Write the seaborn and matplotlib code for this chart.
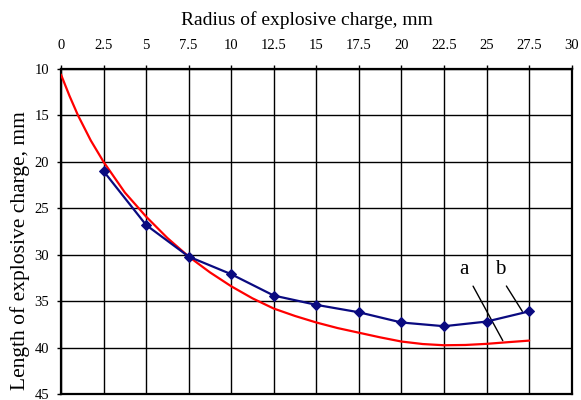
import matplotlib
matplotlib.use("Agg")
import matplotlib.pyplot as plt
import seaborn as sns
import numpy as np

# ---- data ----
radius_b = [2.5, 5, 7.5, 10, 12.5, 15, 17.5, 20, 22.5, 25, 27.5]
length_b = [21.0, 26.8, 30.2, 32.1, 34.4, 35.4, 36.2, 37.3, 37.7, 37.2, 36.1]

radius_a = [0, 0.5, 1, 1.75, 2.5, 3.75, 5, 6.25, 7.5, 8.75, 10, 11.25, 12.5,
            13.75, 15, 16.25, 17.5, 18.75, 20, 21.25, 22.5, 23.75, 25, 26.25, 27.5]
length_a = [10.6, 12.9, 15.0, 17.7, 20.0, 23.3, 25.9, 28.2, 30.2, 31.9, 33.4, 34.7, 35.8,
            36.6, 37.3, 37.9, 38.4, 38.9, 39.35, 39.62, 39.75, 39.72, 39.6, 39.42, 39.25]

x_ticks = [0, 2.5, 5, 7.5, 10, 12.5, 15, 17.5, 20, 22.5, 25, 27.5, 30]
x_ticklabels = ["0", "2.5", "5", "7.5", "10", "12.5", "15", "17.5", "20", "22.5", "25", "27.5", "30"]
y_ticks = [10, 15, 20, 25, 30, 35, 40, 45]
y_ticklabels = ["10", "15", "20", "25", "30", "35", "40", "45"]

x_label = "Radius of explosive charge, mm"
y_label = "Length of explosive charge, mm"

# ---- style ----
sns.set_theme(style="white")
plt.rcParams['font.family'] = ['Liberation Serif', 'DejaVu Serif']

W, H = 581, 400
fig = plt.figure(figsize=(W / 100, H / 100), dpi=100)
ax = fig.add_axes([61 / W, 6 / H, 510.7 / W, 325 / H])

sns.lineplot(x=radius_a, y=length_a, ax=ax, color="#ff0000", lw=1.6, zorder=3)
sns.lineplot(x=radius_b, y=length_b, ax=ax, color="#0a0a80", lw=1.6,
             marker="D", markersize=5.5, markeredgecolor="#0a0a80", zorder=4)

ax.set_xlim(0, 30)
ax.set_ylim(45, 10)
ax.set_xticks(x_ticks)
ax.set_xticklabels(x_ticklabels)
ax.set_yticks(y_ticks)
ax.set_yticklabels(y_ticklabels)

ax.xaxis.tick_top()
ax.tick_params(axis="x", which="both", top=True, bottom=False, direction="out",
               length=3, width=1, color="black", pad=9.5, labelsize=10.5, labelcolor="black")
ax.tick_params(axis="y", which="both", left=True, right=False, direction="out",
               length=3, width=1, color="black", pad=5.5, labelsize=10.5, labelcolor="black")

ax.grid(True, color="black", lw=1.0, zorder=0)
ax.set_axisbelow(True)
for s in ax.spines.values():
    s.set_visible(True)
    s.set_color("black")
    s.set_linewidth(1.6)

ax.xaxis.set_label_position("top")
ax.set_xlabel(x_label, fontsize=14, color="black")
ax.xaxis.set_label_coords((306.7 - 61) / 510.7, (394 - 20) / 325)
ax.xaxis.label.set_va("center")
ax.set_ylabel(y_label, fontsize=15.5, color="black")
ax.yaxis.set_label_coords((20 - 61) / 510.7, (394 - 251) / 325)
ax.yaxis.label.set_va("center")

ax.annotate("a", xy=(25.95, 39.25), xytext=(23.68, 32.1), fontsize=15,
            ha="center", va="baseline", color="black",
            arrowprops=dict(arrowstyle="-", color="black", lw=1.0, shrinkA=3, shrinkB=0))
ax.annotate("b", xy=(27.1, 36.1), xytext=(25.79, 32.1), fontsize=15,
            ha="center", va="baseline", color="black",
            arrowprops=dict(arrowstyle="-", color="black", lw=1.0, shrinkA=3, shrinkB=0,
                            relpos=(0.7, 0.0)))

fig.savefig("out.png", dpi=100)
